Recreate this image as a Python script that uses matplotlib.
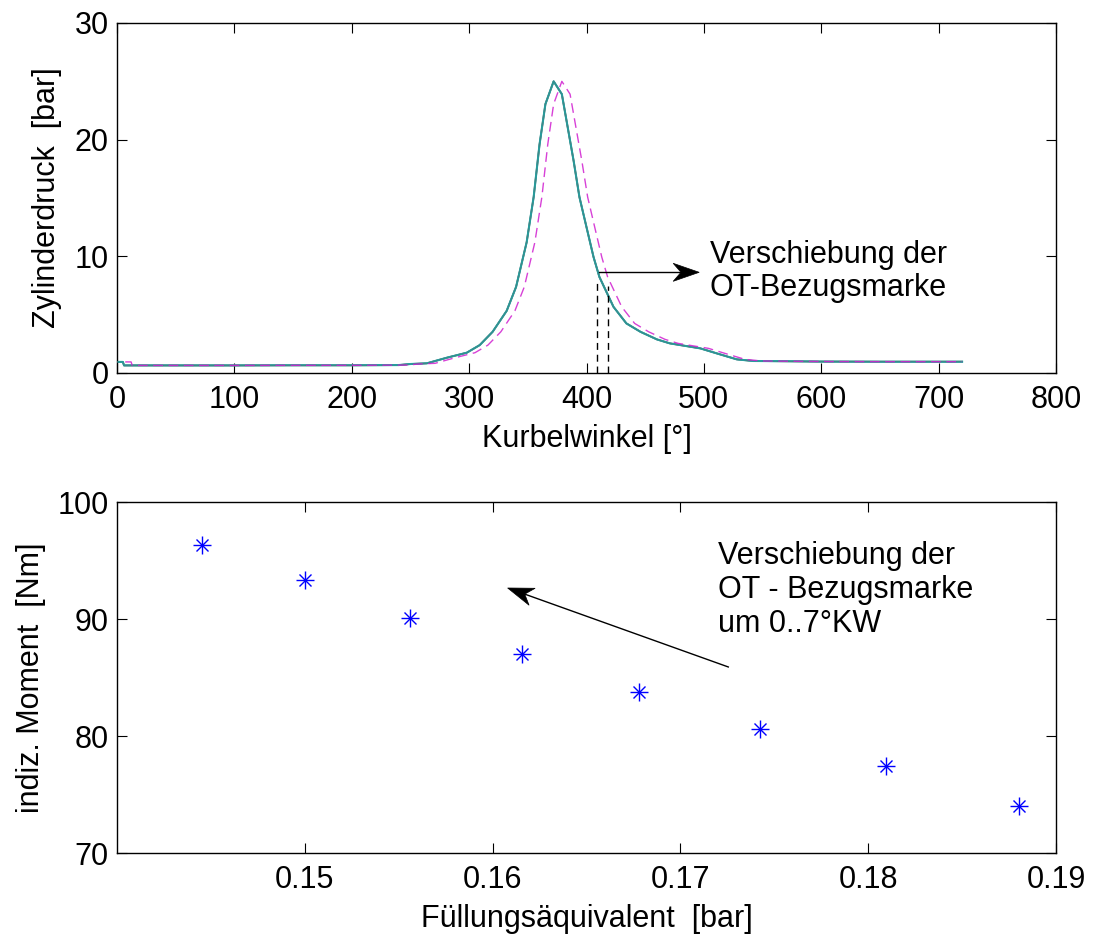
import numpy as np
import matplotlib
matplotlib.use("Agg")
import matplotlib.pyplot as plt
from matplotlib.patches import Polygon

# Cylinder pressure trace over crank angle
crank_deg = [0, 5, 6, 50, 100, 150, 200, 240, 250, 264, 281, 298, 309, 320,
             332, 340, 349, 355, 360, 365, 372, 379, 384, 389, 394, 400, 406,
             411, 423, 434, 446, 460, 471, 497, 511, 528, 542, 600, 650, 720]
pressure_bar = [0.95, 0.95, 0.65, 0.65, 0.65, 0.66, 0.66, 0.68, 0.77, 0.83,
                1.31, 1.74, 2.39, 3.53, 5.33, 7.38, 11.2, 15.1, 19.6, 23.05,
                25.0, 23.9, 21.05, 18.2, 15.07, 12.5, 9.94, 8.23, 5.67, 4.25,
                3.53, 2.88, 2.54, 2.11, 1.68, 1.17, 1.03, 0.98, 0.97, 0.97]
tdc_shift_deg = 7          # shifted TDC reference mark
crank_end_deg = 720

# Dashed reference marks below the arrow
mark_x = [409, 418]
mark_top = [7.8, 7.5]

# Indicated torque versus charge equivalent
fill_eq = [0.14452, 0.1500, 0.15558, 0.16159, 0.16778, 0.17422, 0.18095, 0.18801]
torque_nm = [96.3, 93.3, 90.1, 87.0, 83.8, 80.6, 77.4, 74.0]

top_xticks = [0, 100, 200, 300, 400, 500, 600, 700, 800]
top_yticks = [0, 10, 20, 30]
bot_xticks = [0.15, 0.16, 0.17, 0.18, 0.19]
bot_xticklabels = ["0.15", "0.16", "0.17", "0.18", "0.19"]
bot_yticks = [70, 80, 90, 100]

FS = 22
plt.rcParams['font.family'] = ['Liberation Sans', 'DejaVu Sans']
plt.rcParams['font.size'] = FS

W, H = 1095, 935
fig = plt.figure(figsize=(W / 100, H / 100), dpi=100)
ax1 = fig.add_axes([117 / W, 1 - 373 / H, (1056 - 117) / W, 350 / H])
ax2 = fig.add_axes([117 / W, 1 - 853 / H, (1056 - 117) / W, 351 / H])

for ax in (ax1, ax2):
    ax.tick_params(direction='in', length=7, width=0.8, top=True, right=True,
                   pad=6, labelsize=FS)
    ax.tick_params(axis='x', pad=9)
    for sp in ax.spines.values():
        sp.set_linewidth(1.0)
        sp.set_color('black')


def concave_arrow(ax, tail, tip, length=26, half_width=9, notch=0.7):
    to_px = ax.transData.transform
    to_data = ax.transData.inverted().transform
    p0 = to_px(tail)
    p1 = to_px(tip)
    d = (p1 - p0) / np.hypot(*(p1 - p0))
    n = np.array([-d[1], d[0]])
    base = p1 - length * d
    neck = p1 - notch * length * d
    pts = np.array([p1, base + half_width * n, neck, base - half_width * n])
    ax.add_patch(Polygon(to_data(pts), closed=True, facecolor='black',
                         edgecolor='black', lw=0.5, clip_on=False, zorder=5))
    nd = to_data(neck)
    ax.plot([tail[0], nd[0]], [tail[1], nd[1]], color='black', lw=1.0,
            zorder=5, clip_on=False)


# ---- top: pressure trace ----
x = np.array(crank_deg, dtype=float)
p = np.array(pressure_bar, dtype=float)
ax1.plot(x, p, color='red', lw=1.3, zorder=2)
ax1.plot(x, p, color='#00c8c8', lw=1.5, zorder=2)
ax1.plot(x, p, color='#3a8a8a', lw=1.0, zorder=3)
xs = np.minimum(x + tdc_shift_deg, crank_end_deg)
ax1.plot(xs, p, color='#d020d0', lw=1.0, ls=(0, (7, 4)), alpha=0.85, zorder=4)

for mx, mt in zip(mark_x, mark_top):
    ax1.plot([mx, mx], [0, mt], color='black', lw=1.0, ls=(0, (5, 3.5)), zorder=4)

ax1.set_xlim(0, 800)
ax1.set_ylim(0, 30)
ax1.set_xticks(top_xticks)
ax1.set_yticks(top_yticks)
ax1.set_xlabel("Kurbelwinkel [°]", labelpad=6)
ax1.set_ylabel("Zylinderdruck  [bar]", labelpad=9)

concave_arrow(ax1, (410.6, 8.63), (496.0, 8.63))
ax1.text(505, 8.7, "Verschiebung der\nOT-Bezugsmarke", ha='left', va='center',
         linespacing=1.12)

# ---- bottom: torque vs charge equivalent ----
ax2.plot(fill_eq, torque_nm, ls='none', marker='+', ms=13, mew=1.0,
         color='#0000ff', zorder=3)
ax2.plot(fill_eq, torque_nm, ls='none', marker='x', ms=8, mew=1.0,
         color='#0000ff', zorder=3)

ax2.set_xlim(0.14, 0.19)
ax2.set_ylim(70, 100)
ax2.set_xticks(bot_xticks)
ax2.set_xticklabels(bot_xticklabels)
ax2.set_yticks(bot_yticks)
ax2.set_xlabel("Füllungsäquivalent  [bar]", labelpad=6)
ax2.set_ylabel("indiz. Moment  [Nm]", labelpad=8)

concave_arrow(ax2, (0.17255, 85.9), (0.1608, 92.65))
ax2.text(0.17201, 92.48, "Verschiebung der\nOT - Bezugsmarke\num 0..7°KW",
         ha='left', va='center', linespacing=1.16)

fig.savefig("out.png", dpi=100)
